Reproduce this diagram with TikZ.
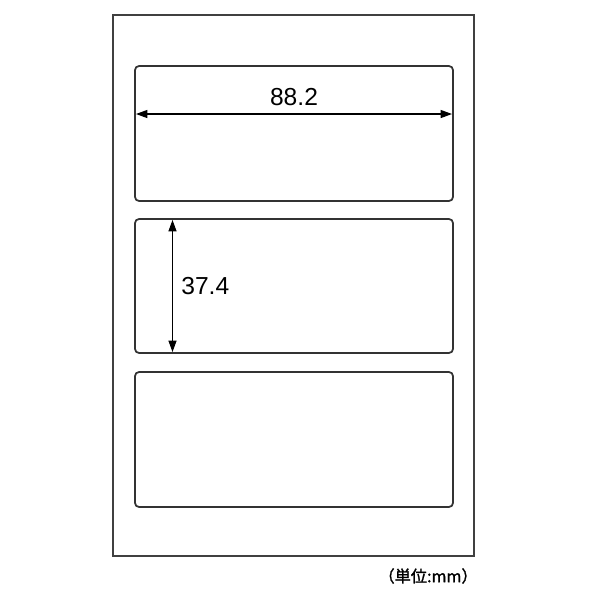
\documentclass[tikz,border=0pt]{standalone}
\usepackage{fontspec}
\setmainfont{Liberation Sans}
\newfontfamily\jpfont[FakeBold=1.5]{Noto Sans CJK JP}
\usetikzlibrary{arrows.meta}

\begin{document}
\begin{tikzpicture}[x=0.02cm,y=-0.02cm,
  sheet/.style={draw=black!75,line width=1.1pt},
  label/.style={draw=black!80,line width=1pt,rounded corners=2.3pt},
  dim/.style={line width=0.6pt,{Triangle[length=6.5pt,width=4.6pt]}-{Triangle[length=6.5pt,width=4.6pt]}},
  dimtext/.style={font=\fontsize{14}{16}\selectfont,inner sep=0pt}]
\useasboundingbox (0,0) rectangle (600,600);

% Sheet
\draw[sheet] (113,15) rectangle (474,556);

% Labels
\draw[label] (135,66) rectangle (453,201);
\draw[label] (135,219) rectangle (453,353);
\draw[label] (135,372) rectangle (453,507);

% Width
\coordinate (wl) at (136,114);
\coordinate (wr) at (452,114);
\draw[dim] (wl) -- (wr);
\node[dimtext,anchor=base] (width) at (294,105) {88.2};

% Height
\coordinate (ht) at (172.5,220);
\coordinate (hb) at (172.5,352);
\draw[dim] (ht) -- (hb);
\node[dimtext,anchor=base west] (height) at (181,294) {37.4};

% Unit
\node[anchor=east,inner sep=0pt,font=\jpfont\fontsize{9.2}{11}\selectfont] (unit) at (478,576) {（単位:mm）};

\end{tikzpicture}
\end{document}
